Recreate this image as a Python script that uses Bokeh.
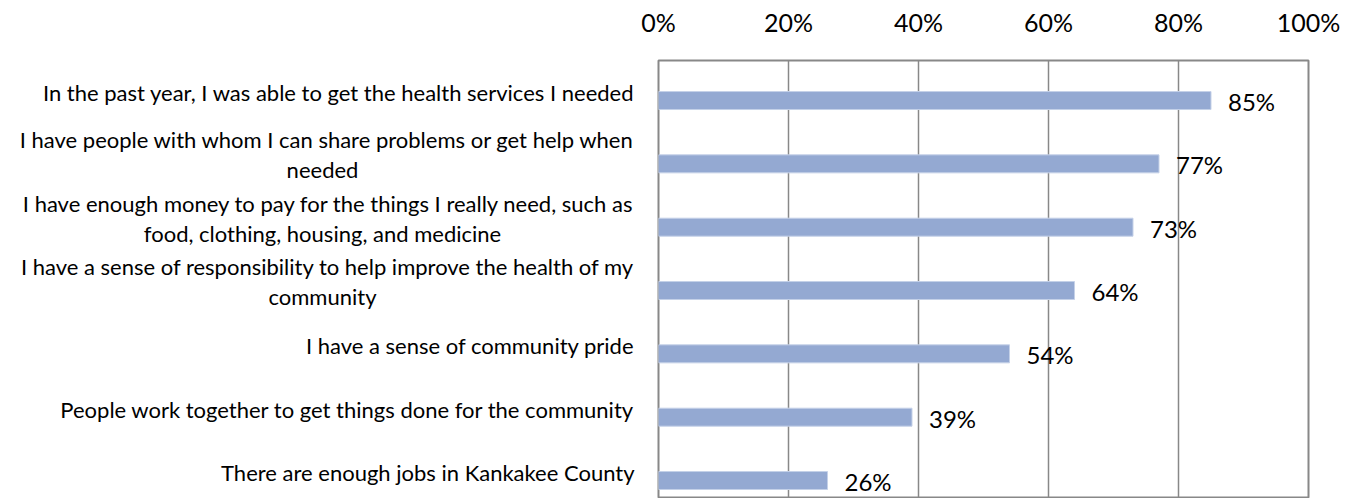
from bokeh.plotting import figure
from bokeh.layouts import row
from bokeh.models import Range1d, FixedTicker, LinearAxis, ColumnDataSource, NumeralTickFormatter
from bokeh.core.properties import value
from bokeh.embed import file_html
from bokeh.resources import INLINE

# category text: first line and (optional) second line
label_line1 = [
    "In the past year, I was able to get the health services I needed",
    "I have people with whom I can share problems or get help when",
    "I have enough money to pay for the things I really need, such as",
    "I have a sense of responsibility to help improve the health of my",
    "I have a sense of community pride",
    "People work together to get things done for the community",
    "There are enough jobs in Kankakee County",
]
label_line2 = ["", "needed", "food, clothing, housing, and medicine", "community", "", "", ""]
values = [0.85, 0.77, 0.73, 0.64, 0.54, 0.39, 0.26]
value_labels = ["85%", "77%", "73%", "64%", "54%", "39%", "26%"]
x_ticks = [0, 0.2, 0.4, 0.6, 0.8, 1.0]

FONT = "Lato"
pos = list(range(len(values)))
yr = Range1d(6.284, -0.632)

src = ColumnDataSource(dict(y=pos, v=values, lab=value_labels))

# ---- main chart ----
p = figure(width=715, height=498, output_backend="svg", toolbar_location=None,
           x_range=Range1d(0, 1), y_range=yr,
           x_axis_location=None, y_axis_location=None,
           min_border_left=20, min_border_right=45, min_border_top=60, min_border_bottom=0)
p.outline_line_color = "#888888"
p.outline_line_width = 2

xa = LinearAxis(ticker=FixedTicker(ticks=x_ticks), formatter=NumeralTickFormatter(format="0%"))
xa.axis_line_color = None
xa.major_tick_line_color = None
xa.minor_tick_line_color = None
xa.major_tick_out = 0
xa.major_tick_in = 0
xa.major_label_text_font = FONT
xa.major_label_text_font_size = "25px"
xa.major_label_text_color = "#000000"
xa.major_label_standoff = 24
p.add_layout(xa, "above")

p.xgrid.ticker = FixedTicker(ticks=x_ticks)
p.xgrid.grid_line_color = "#888888"
p.xgrid.grid_line_width = 1.5
p.ygrid.grid_line_color = None

p.hbar(y="y", right="v", left=0, height=0.284, source=src,
       fill_color="#94A9D2", line_color="#C5D1E8", line_width=1)

p.text(x="v", y="y", text="lab", source=src, x_offset=17, y_offset=1,
       text_font=value(FONT), text_font_size="24px", text_color="#000000",
       text_baseline="middle", text_align="left")

# ---- category label panel (left) ----
lp = figure(width=638, height=498, output_backend="svg", toolbar_location=None,
            x_range=Range1d(-638, 0), y_range=yr,
            x_axis_location=None, y_axis_location=None,
            min_border_left=0, min_border_right=0, min_border_top=60, min_border_bottom=0)
lp.outline_line_color = None
lp.grid.visible = False

has2 = [bool(s) for s in label_line2]
src1 = ColumnDataSource(dict(x=[0] * len(pos), y=pos, text=label_line1,
                             yo=[-24 if h else -8 for h in has2]))
lp.text(x="x", y="y", text="text", source=src1, x_offset=-4, y_offset="yo",
        text_font=value(FONT), text_font_size="22px", text_color="#000000",
        text_align="right", text_baseline="middle")

idx2 = [i for i in pos if has2[i]]
src2 = ColumnDataSource(dict(x=[0] * len(idx2), y=idx2, text=[label_line2[i] for i in idx2],
                             yo=[6] * len(idx2)))
lp.text(x="x", y="y", text="text", source=src2, x_offset=-316, y_offset="yo",
        text_font=value(FONT), text_font_size="22px", text_color="#000000",
        text_align="center", text_baseline="middle")

layout = row(lp, p, spacing=0)
open("out.html", "w").write(file_html(layout, INLINE))
